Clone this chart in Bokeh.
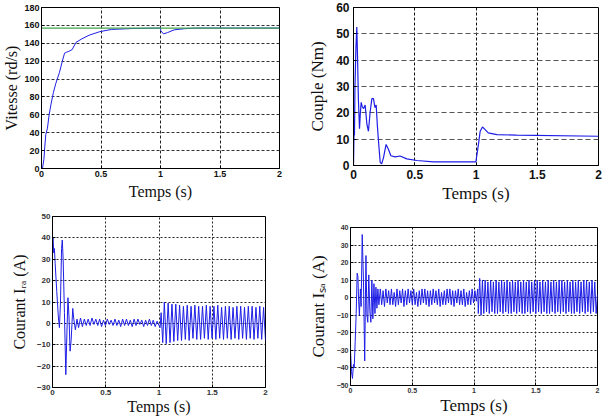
import numpy as np
from bokeh.plotting import figure
from bokeh.layouts import column, row
from bokeh.models import Range1d, FixedTicker
from bokeh.embed import file_html
from bokeh.resources import INLINE

# ---------------- data ----------------
x_ticks = [0, 0.5, 1, 1.5, 2]
x_tick_labels = {0: "0", 0.5: "0.5", 1: "1", 1.5: "1.5", 2: "2"}

speed_t = [0, 0.008, 0.02, 0.028, 0.036, 0.05, 0.064, 0.08, 0.1, 0.12, 0.15, 0.175, 0.194,
           0.21, 0.23, 0.258, 0.29, 0.34, 0.4, 0.49, 0.59, 0.76, 1.0, 1.002, 1.025, 1.06,
           1.115, 1.2, 1.3, 2.0]
speed_v = [0, 0, 10, 25, 38, 45, 60, 72, 85, 95, 107, 120, 129, 130, 131, 133, 141, 145,
           149, 153, 155.5, 156.5, 157, 154, 150.5, 152, 155, 156.3, 157, 157]
speed_ref_t = [0, 2]
speed_ref_v = [157, 157]

torque_t = [0, 0.004, 0.008, 0.012, 0.02, 0.027, 0.033, 0.04, 0.049, 0.056, 0.063, 0.07,
            0.082, 0.095, 0.11, 0.122, 0.136, 0.15, 0.163, 0.175, 0.185, 0.195, 0.204,
            0.218, 0.23, 0.245, 0.266, 0.285, 0.305, 0.34, 0.38, 0.435, 0.517, 0.653, 0.79,
            0.999, 1.02, 1.034, 1.053, 1.075, 1.1, 1.17, 1.33, 2.0]
torque_v = [0, 11.5, 11.5, 30, 45, 52.6, 41, 25, 14, 20, 24, 22.5, 21.6, 23, 15.5, 13,
            20.4, 25.4, 25.4, 22, 23, 15, 9.3, 1.2, 0.6, 3, 8, 6.2, 3.7, 3.3, 3.6, 2.5, 1.9,
            1.4, 1.4, 1.4, 8, 13, 14.6, 13.6, 12.4, 11.75, 11.5, 11.1]

# I_ra : start-up transient
ira_t0 = [0, 0.005, 0.012, 0.018, 0.025, 0.04, 0.055, 0.065, 0.075, 0.085, 0.092, 0.1,
          0.112, 0.125, 0.135, 0.145, 0.155, 0.165, 0.175, 0.19, 0.2, 0.215, 0.23]
ira_v0 = [38, 40, 33, 35, 28, 15, 3, -2, 10, 35, 39, 30, 5, -24, -5, 12, 3, -13, -8, 7, 2,
          -3, 2]
# I_ra : small oscillation 0.245 .. 1.0 (successive extrema)
ira_small = [-2, 2.5, -1.5, 2, -1, 2, -1, 2.5, -0.5, 2, -1, 2, -1.5, 1.5, -1, 2, -0.5, 1.5,
             -1, 2, -1, 1.5, -1.5, 2, -1, 2, -1, 1.5, -1.5, 2, -1, 2, -0.5, 1.5, -1.5, 1.5,
             -1, 2, -1, 1.5, -1.5, 1, -1]
ira_small_span = [0.245, 1.0]
# I_ra : load step
ira_t1 = [1.01, 1.02, 1.035]
ira_v1 = [-2, 5, -9]
# I_ra : loaded oscillation 1.05 .. 2.0 (successive extrema)
ira_big = [10, -9.5, 9.5, -9, 9, -8.5, 9, -8, 8.5, -8, 8, -7.5, 8.5, -8, 8, -7, 8.5, -7.5,
           8, -7.5, 8, -7, 8.5, -7.5, 8, -7, 8, -7.5, 8.5, -7, 7.5, -7.5, 8, -7, 8, -7.5,
           7.5, -7, 8, -7.5, 8, -7, 7.5, -7.5, 8, -7, 8, -7.5, 7.5, -7, 8, -7.5, 7.5, -8]
ira_big_span = [1.05, 2.0]

# I_sa : start-up transient
isa_t0 = [0, 0.008, 0.016, 0.024, 0.03, 0.038, 0.046, 0.054, 0.06, 0.066, 0.072, 0.08,
          0.086, 0.095, 0.105, 0.115, 0.125, 0.133, 0.14, 0.148, 0.157, 0.165, 0.173,
          0.181, 0.19, 0.198, 0.206, 0.214, 0.222]
isa_v0 = [-30, -42, -46, -38, -40, -25, -9, 14, 12, -2, -10, 5, -5, 36, 10, -36, 24, -10,
          -14, 13, -8, -14, 10, -12, 8, -9, 6, -6, 5]
# I_sa : no-load oscillation 0.23 .. 1.03 (successive extrema)
isa_small = [-4, 5, -4, 4, -5, 5, -3, 4, -4, 5, -4, 3, -5, 5, -4, 4, -3, 5, -5, 4, -4, 5,
             -3, 4, -4, 5, -4, 3, -5, 4, -4, 5, -3, 5, -4, 4, -5, 4, -4, 5, -3, 4, -4, 5,
             -5, 3, -4, 4, -4, 5, -3, 5, -4, 4, -5, 4, -3, 5, -4, 4, -4, 5, -5, 3, -4, 4,
             -4, 5, -3, 4, -2, 5]
isa_small_span = [0.23, 1.03]
# I_sa : loaded oscillation 1.035 .. 2.0 (successive extrema)
isa_big = [-9, 11, -10, 10, -9, 10, -8, 9, -9, 10, -8, 9, -9, 10, -9, 9, -8, 10, -9, 9, -8,
           10, -9, 9, -9, 10, -8, 9, -9, 10, -8, 9, -9, 10, -9, 9, -8, 10, -9, 9, -8, 10,
           -9, 10, -8, 9, -9, 10, -8, 9, -9, 10, -9, 9, -8, 10, -9, 9, -8, 10, -9, 10, -8,
           9, -9, 10, -8, 9, -9, 10, -9, 9, -8, 10, -9, 9, -8, 10, -9, 10, -8, 9, -9, 10,
           -8, 9, -9, 2]
isa_big_span = [1.035, 2.0]


def seg(span, vals):
    return list(np.linspace(span[0], span[1], len(vals)))


ira_t = ira_t0 + seg(ira_small_span, ira_small) + ira_t1 + seg(ira_big_span, ira_big)
ira_v = ira_v0 + ira_small + ira_v1 + ira_big
isa_t = isa_t0 + seg(isa_small_span, isa_small) + seg(isa_big_span, isa_big)
isa_v = isa_v0 + isa_small + isa_big

BLUE = "#1e1ee6"
GREEN = "#3fa34d"
SERIF = "Liberation Serif"
SANS = "Liberation Sans"


def make(w, h, yr, ystep, ylabel, bl, br, bt, bb, tick_size, tick_color,
         label_size, xgrid, ygrid, ylab_std, xlab_std, tick_std):
    p = figure(width=w, height=h, output_backend="svg", toolbar_location=None,
               x_range=Range1d(0, 2), y_range=Range1d(yr[0], yr[1]),
               min_border_left=bl, min_border_right=br, min_border_top=bt,
               min_border_bottom=bb)
    p.frame_align = False
    p.background_fill_color = "white"
    p.border_fill_color = "white"
    p.outline_line_color = "black"
    p.outline_line_width = 1
    p.xaxis.ticker = FixedTicker(ticks=x_ticks)
    p.xaxis.major_label_overrides = x_tick_labels
    p.yaxis.ticker = FixedTicker(ticks=list(range(yr[0], yr[1] + 1, ystep)))
    for ax in (p.xaxis[0], p.yaxis[0]):
        ax.axis_line_color = "black"
        ax.major_tick_in = 3
        ax.major_tick_out = 0
        ax.minor_tick_line_color = None
        ax.major_label_text_font = SANS
        ax.major_label_text_font_style = "bold"
        ax.major_label_text_font_size = tick_size
        ax.major_label_text_color = tick_color
        ax.major_label_standoff = tick_std
        ax.axis_label_text_font = SERIF
        ax.axis_label_text_font_style = "normal"
        ax.axis_label_text_font_size = label_size
        ax.axis_label_text_color = "#111111"
    p.yaxis.axis_label_standoff = ylab_std
    p.xaxis.axis_label_standoff = xlab_std
    p.xaxis.axis_label = "Temps (s)"
    p.yaxis.axis_label = ylabel
    p.xgrid.grid_line_color = xgrid[0]
    p.xgrid.grid_line_dash = xgrid[1]
    p.xgrid.grid_line_width = 1
    p.ygrid.grid_line_color = ygrid[0]
    p.ygrid.grid_line_dash = ygrid[1]
    p.ygrid.grid_line_width = 1
    return p


p1 = make(300, 205, (0, 180), 20, "Vitesse (rd/s)", 39, 21, 7, 37, "9px", "#111111",
          "16px", ("#222222", "3 2"), ("#333333", "3 2"), 1, 3, 2)
p1.line(speed_t, speed_v, line_color=BLUE, line_width=1)
p1.line(speed_ref_t, speed_ref_v, line_color=GREEN, line_width=1.3)

p2 = make(306, 205, (0, 60), 10, "Couple (Nm)", 53, 8, 7, 37, "12px", "#111111",
          "17px", ("#111111", "3 2"), ("#555555", "5 3"), 6, 2, 4)
p2.line(torque_t, torque_v, line_color=BLUE, line_width=1.2)

p3 = make(300, 212, (-30, 50), 10, "Courant I\u1d63\u2090 (A)", 52, 35, 11, 28, "8px",
          "#333333", "16px", ("#222222", "2 2"), ("#222222", "2 2"), 6, 0, 2)
p3.line(ira_t, ira_v, line_color=BLUE, line_width=1)

p4 = make(306, 212, (-50, 40), 10, "Courant I\u209b\u2090 (A)", 50, 9, 22, 30, "7px",
          "#333333", "17px", ("#222222", "2 2"), ("#222222", "2 2"), 6, 0, 2)
p4.line(isa_t, isa_v, line_color=BLUE, line_width=1)

layout = column(row(p1, p2), row(p3, p4))
open("out.html", "w").write(file_html(layout, INLINE))
